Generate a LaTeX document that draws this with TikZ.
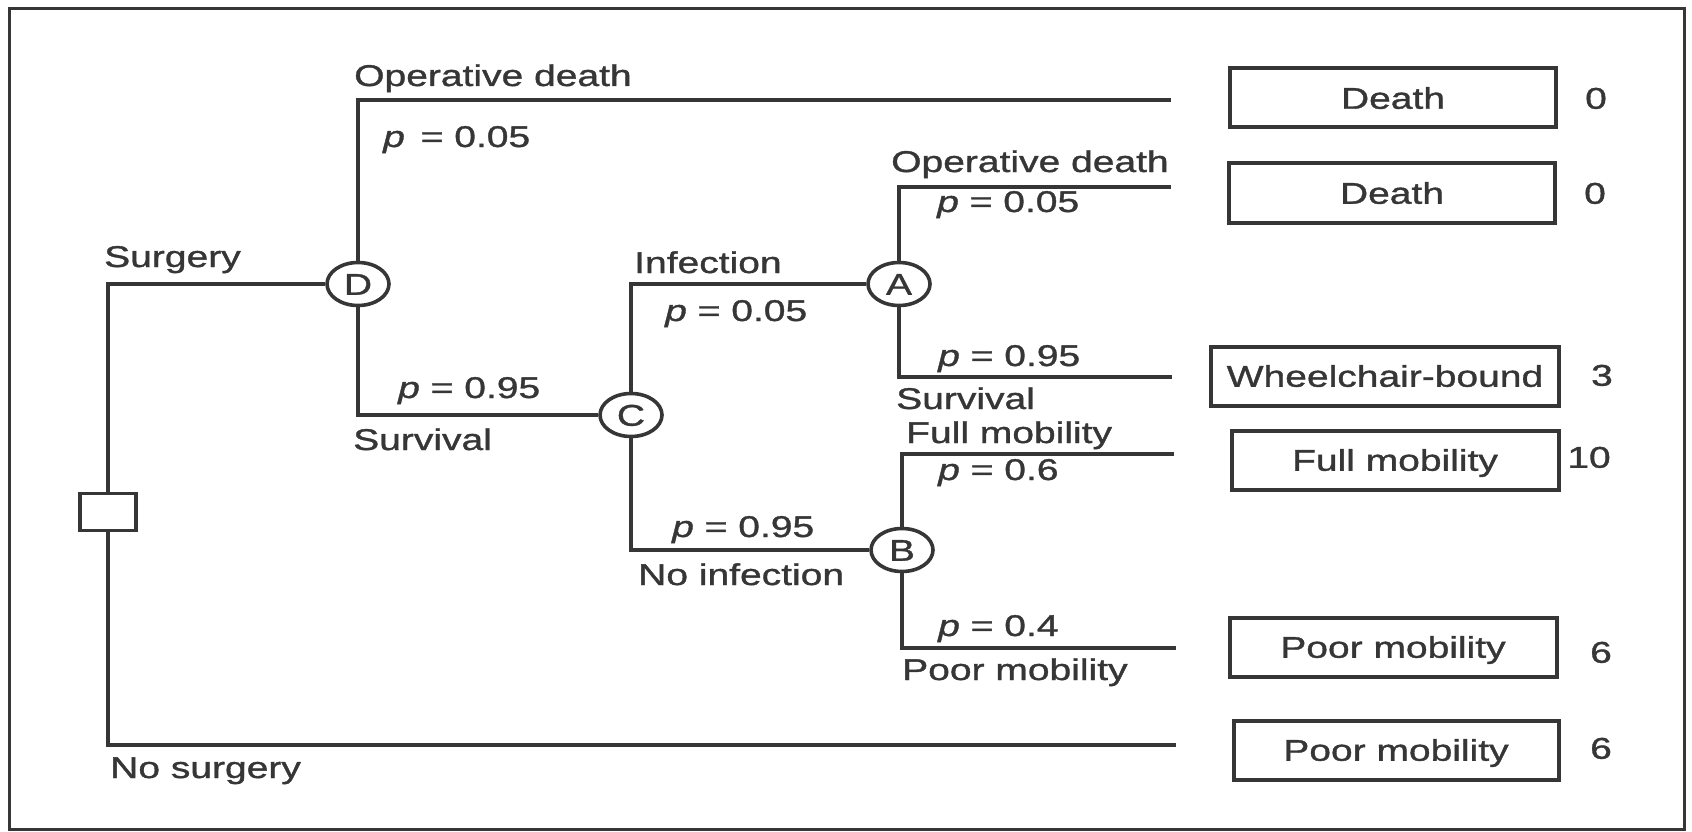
\documentclass[tikz,border=0pt]{standalone}
\usepackage{fontspec}
\setmainfont[FakeStretch=1.3,FakeBold=1.2]{Liberation Sans}
\usetikzlibrary{shapes.geometric}
\definecolor{ink}{HTML}{363636}
\newcommand{\dfont}{\fontsize{30pt}{36pt}\selectfont}
\begin{document}
\begin{tikzpicture}[x=1pt,y=-1pt,
  branch/.style={draw=ink, line width=4pt},
  lbl/.style={font=\dfont, text=ink, inner sep=0pt, anchor=base west},
  chance/.style={ellipse, draw=ink, line width=3.6pt, minimum width=62pt, minimum height=43pt, inner sep=0pt, font=\dfont, text=ink, text height=21.5pt, text depth=0pt},
  decision/.style={rectangle, draw=ink, line width=3.6pt, minimum width=56pt, minimum height=37pt, inner sep=0pt},
  outcome/.style={rectangle, draw=ink, line width=4pt, minimum height=59pt, inner sep=0pt, font=\dfont, text=ink, text height=21.5pt, text depth=0pt},
  val/.style={font=\dfont, text=ink, inner sep=0pt, text height=21.5pt, text depth=0pt}]
\useasboundingbox (0,0) rectangle (1692,832);
\draw[draw=ink, line width=3pt] (9,9) rectangle (1684,829);

% decision and chance nodes
\node[decision] (dec) at (108,512) {};
\node[chance] (D) at (358,284) {D};
\node[chance] (C) at (631,415) {C};
\node[chance] (A) at (899,284) {A};
\node[chance] (B) at (902,550) {B};

% free ends
\coordinate (e1) at (1171,100);
\coordinate (e2) at (1171,187);
\coordinate (e3) at (1172,377);
\coordinate (e4) at (1174,454);
\coordinate (e5) at (1176,648);
\coordinate (e6) at (1176,745);

% connectors
\draw[branch] (dec) |- (D);
\draw[branch] (dec) |- (e6);
\draw[branch] (D) |- (e1);
\draw[branch] (D) |- (C);
\draw[branch] (C) |- (A);
\draw[branch] (C) |- (B);
\draw[branch] (A) |- (e2);
\draw[branch] (A) |- (e3);
\draw[branch] (B) |- (e4);
\draw[branch] (B) |- (e5);

% labels
\node[lbl] (lsurg) at (104,267) {Surgery};
\node[lbl] (lnosurg) at (110,778) {No surgery};
\node[lbl] (lod1) at (354,86) {Operative death};
\node[lbl] (lp1) at (383,147) {\textit{p}\, = 0.05};
\node[lbl] (lp2) at (398,398) {\textit{p} = 0.95};
\node[lbl] (lsurv1) at (353,450) {Survival};
\node[lbl] (linf) at (634,273) {Infection};
\node[lbl] (lp3) at (665,321) {\textit{p} = 0.05};
\node[lbl] (lp4) at (672,537) {\textit{p} = 0.95};
\node[lbl] (lnoinf) at (638,585) {No infection};
\node[lbl] (lod2) at (891,172) {Operative death};
\node[lbl] (lp5) at (937,212) {\textit{p} = 0.05};
\node[lbl] (lp6) at (938,366) {\textit{p} = 0.95};
\node[lbl] (lsurv2) at (896,409) {Survival};
\node[lbl] (lfull) at (906,443) {Full mobility};
\node[lbl] (lp7) at (938,480) {\textit{p} = 0.6};
\node[lbl] (lp8) at (938,636) {\textit{p} = 0.4};
\node[lbl] (lpoor) at (902,680) {Poor mobility};

% outcomes
\node[outcome, minimum width=326pt] (o1) at (1393,98) {Death};
\node[outcome, minimum width=326pt] (o2) at (1392,193) {Death};
\node[outcome, minimum width=348pt] (o3) at (1385,376) {Wheelchair-bound};
\node[outcome, minimum width=327pt] (o4) at (1395,460) {Full mobility};
\node[outcome, minimum width=327pt] (o5) at (1393,647) {Poor mobility};
\node[outcome, minimum width=325pt] (o6) at (1396,750) {Poor mobility};

% values
\node[val] (v1) at (1596,98) {0};
\node[val] (v2) at (1595,193) {0};
\node[val] (v3) at (1602,375) {3};
\node[val] (v4) at (1589,457) {10};
\node[val] (v5) at (1601,652) {6};
\node[val] (v6) at (1601,748) {6};
\end{tikzpicture}
\end{document}
